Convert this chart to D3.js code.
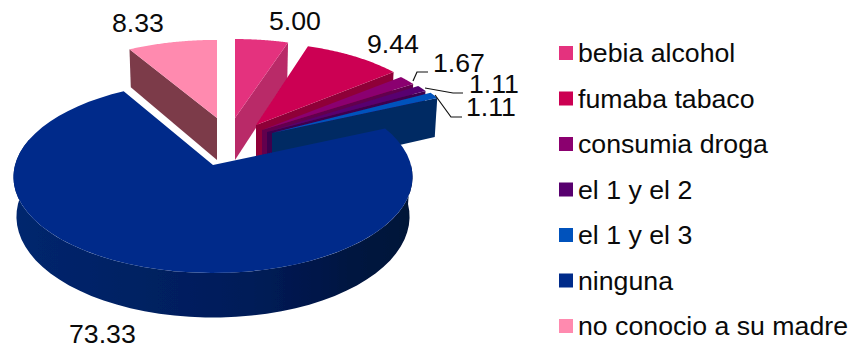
<!DOCTYPE html>
<html><head><meta charset="utf-8">
<script src="https://cdn.jsdelivr.net/npm/d3@7"></script>
<style>html,body{margin:0;padding:0;background:#fff}svg{display:block}text{font-family:"Liberation Sans",Arial,sans-serif;fill:#0a0a0a}</style>
</head><body><div id="chart"></div>
<script>
const categories = ["bebia alcohol","fumaba tabaco","consumia droga","el 1 y el 2","el 1 y el 3","ninguna","no conocio a su madre"];
const values = [5.00,9.44,1.67,1.11,1.11,73.33,8.33];
const topColors = ["#e4327e","#cc0052","#8b006f","#58006f","#0052bc","#002b8a","#ff8aaf"];
const wallColors = ["#b92a68","#8f0038","#62004e","#3c004e","#002a63","#001d5c","#7b3a4a"];
// exploded apex of every slice on the page
const apexes = [[235,118],[256,125],[262,130],[267,132],[272,133],[213,165],[217,118]];
const scaleX = [0.97,0.95,0.96,0.96,0.96,1,0.98];
const scaleY = [0.94,0.98,0.98,0.98,0.96,1,0.93];
const sliceDepth = [42,42,42,42,41,39,42];
const labelSpots = [[269,30],[367,53],[433,72],[469,93],[466,116],[69,343],[112,32]];
const leaders = [null,null,[[413,81],[417,72],[428,72]],[[425,88],[453,93],[463,93]],[[435,95],[451,117],[462,117]],null,null];

const W=851,H=349,RX=198,RY=94.5,P=0.125,N=60;
const svg=d3.select("#chart").append("svg").attr("width",W).attr("height",H).attr("viewBox",[0,0,W,H]);
const defs=svg.append("defs");
const g=defs.append("linearGradient").attr("id","wall").attr("gradientUnits","userSpaceOnUse")
  .attr("x1",13).attr("x2",413).attr("y1",0).attr("y2",0);
[[0,"#03266e"],[0.3,"#002163"],[0.6,"#001c58"],[0.85,"#001340"],[1,"#001238"]].forEach(s=>g.append("stop").attr("offset",s[0]).attr("stop-color",s[1]));
defs.append("filter").attr("id","soft").append("feGaussianBlur").attr("stdDeviation",0.45);

const arcs=d3.pie().sort(null).value(d=>d).startAngle(0).endAngle(2*Math.PI)(values);
function project(i,angle,r,z){
  const u=Math.sin(angle)*r,v=-Math.cos(angle)*r,w=1/(1-P*v);
  return [apexes[i][0]+scaleX[i]*RX*u*w*(1-0.015*z), apexes[i][1]+scaleY[i]*RY*v*w+sliceDepth[i]*z*w];
}
const line=d3.line();
const steps=(a,b)=>d3.range(N+1).map(t=>a+(b-a)*t/N);
const pie=svg.append("g").attr("filter","url(#soft)");
const order=[6,0,1,2,3,4,5];
order.forEach(i=>{
  const a=arcs[i],mid=(a.startAngle+a.endAngle)/2;
  if(i===5){
    const outer=steps(Math.PI/2,a.endAngle).filter(t=>t<=1.5*Math.PI+0.3);
    const pts=outer.map(t=>project(i,t,1,0)).concat(outer.slice().reverse().map(t=>project(i,t,1,1)));
    pie.append("path").attr("d",line(pts)+"Z").attr("fill","url(#wall)");
  } else {
    const t=mid>Math.PI?a.startAngle:a.endAngle;
    pie.append("path").attr("d",line([project(i,0,0,0),project(i,t,1,0),project(i,t,1,1),project(i,0,0,1)])+"Z").attr("fill",wallColors[i]);
  }
  const top=[project(i,0,0,0)].concat(steps(a.startAngle,a.endAngle).map(t=>project(i,t,1,0)));
  pie.append("path").attr("d",line(top)+"Z").attr("fill",topColors[i]);
});
leaders.forEach(l=>{ if(l) svg.append("path").attr("d",line(l)).attr("fill","none").attr("stroke","#111").attr("stroke-width",1.2); });
svg.selectAll("text.val").data(values).join("text").attr("class","val")
  .attr("x",(d,i)=>labelSpots[i][0]).attr("y",(d,i)=>labelSpots[i][1])
  .attr("font-size",26.7).text(d=>d.toFixed(2));
const rowY=d3.scalePoint().domain(categories).range([46,319]);
const leg=svg.selectAll("g.leg").data(categories).join("g").attr("class","leg");
leg.append("rect").attr("x",559).attr("y",d=>rowY(d)).attr("width",14).attr("height",14).attr("fill",(d,i)=>topColors[i]);
leg.append("text").attr("x",578).attr("y",d=>rowY(d)+16).attr("font-size",26.7).text(d=>d);
</script></body></html>
